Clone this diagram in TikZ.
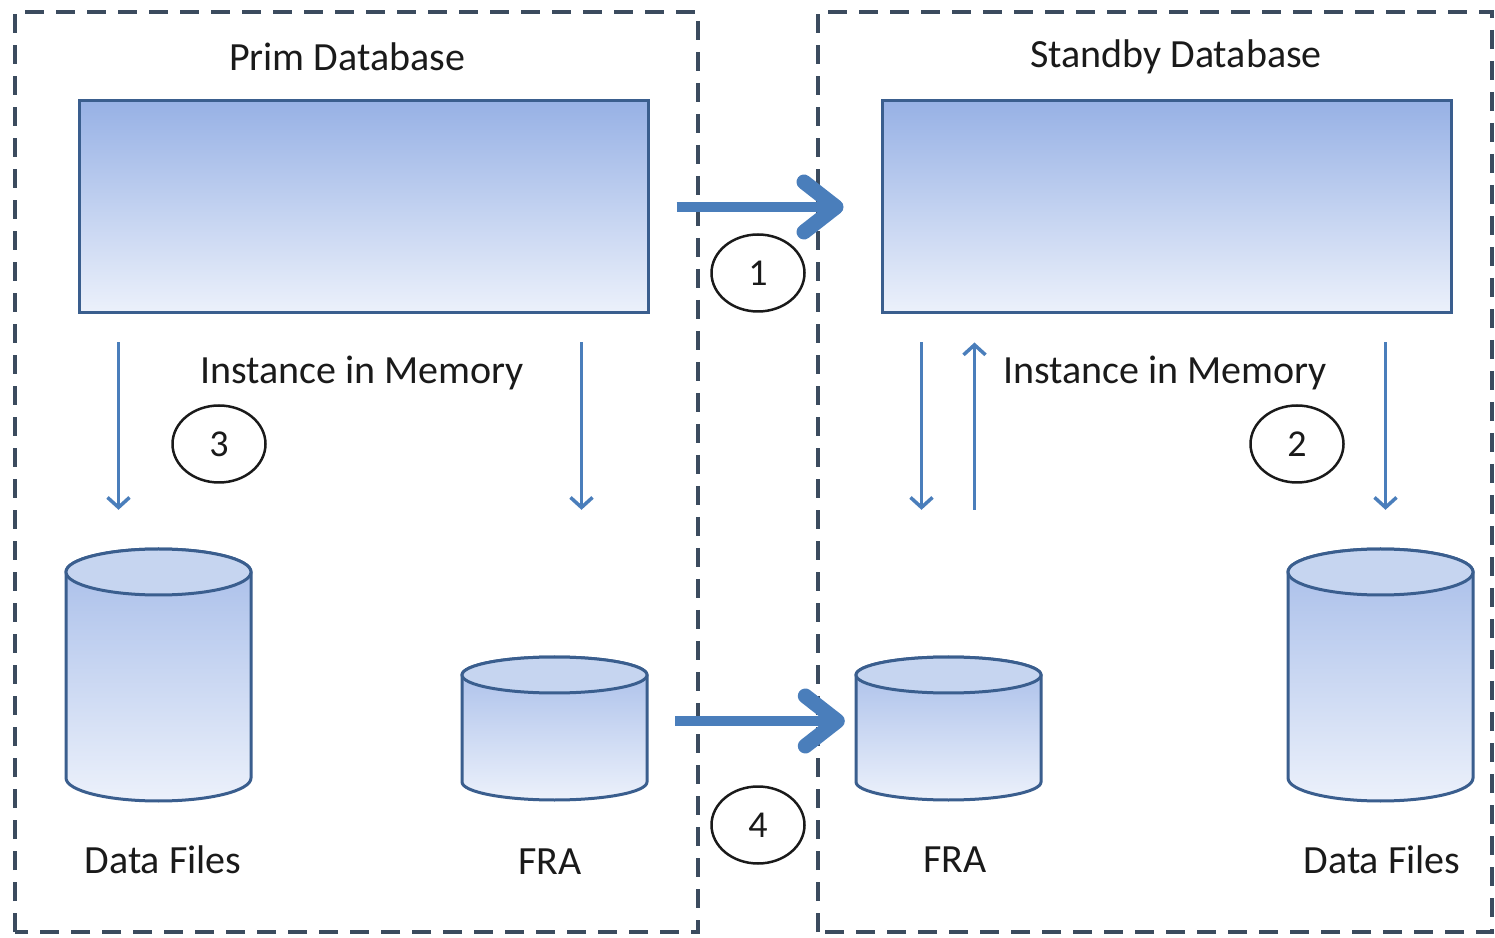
\documentclass[tikz,border=0pt]{standalone}
\usepackage{fontspec}
\setmainfont{Carlito}
\usetikzlibrary{arrows.meta,shapes.geometric}

\definecolor{frameline}{HTML}{3B4B5E}
\definecolor{boxline}{HTML}{3A5E8E}
\definecolor{flowblue}{HTML}{4A7EBB}
\definecolor{shadetop}{HTML}{97B1E5}
\definecolor{shadebot}{HTML}{ECF1FB}
\definecolor{captop}{HTML}{C6D5F0}
\definecolor{labeltext}{HTML}{1A1A1A}

\tikzset{
  framebox/.style={draw=frameline, line width=3.2pt, dash pattern=on 19pt off 12pt},
  instbox/.style={draw=boxline, line width=3pt, top color=shadetop, bottom color=shadebot,
    rectangle, minimum width=569pt, minimum height=212pt, inner sep=0pt},
  caption/.style={font=\fontsize{40}{44}\selectfont, text=labeltext, inner sep=0pt},
  stepmark/.style={draw=labeltext, line width=2.5pt, ellipse, minimum width=93pt,
    minimum height=77pt, inner sep=0pt, font=\fontsize{38}{42}\selectfont, text=labeltext},
  bigflow/.style={draw=flowblue, line width=10pt,
    -{Straight Barb[length=32pt,width=50pt,line width=15pt,round]}},
  smallflow/.style={draw=flowblue, line width=3pt,
    -{Straight Barb[length=10pt,width=22pt,line width=3.5pt]}},
  cylbody/.style={draw=boxline, line width=3pt, top color=shadetop!85!white, bottom color=shadebot},
  cyltop/.style={draw=boxline, line width=3pt, fill=captop},
}

% \dbdisk{name}{centre x}{top y}{bottom y}{half width}{ellipse half height}
\newcommand{\dbdisk}[6]{%
  \path[cylbody] (#2-#5,#3) -- (#2-#5,#4)
     arc[start angle=180, end angle=360, x radius=#5, y radius=#6]
     -- (#2+#5,#3)
     arc[start angle=0, end angle=180, x radius=#5, y radius=#6] -- cycle;
  \draw[cyltop] (#2,#3) ellipse [x radius=#5, y radius=#6];
  \node[rectangle, inner sep=0pt, minimum width=2*#5 pt, minimum height=#3-#4+2*#6 pt]
     (#1) at (#2,{(#3+#4)/2}) {};
}

\begin{document}
\begin{tikzpicture}[x=1pt,y=1pt]
  \useasboundingbox (0,0) rectangle (1495,937);

  % site frames
  \draw[framebox] (15,5) rectangle (698,925);
  \draw[framebox] (818,5) rectangle (1492,925);

  \node[caption] (primtitle) at (347,880) {Prim Database};
  \node[caption] (stbytitle) at (1176,880) {Standby Database};

  % instances
  \node[instbox] (primrect) at (363.5,730) {};
  \node[instbox] (stbyrect) at (1166.5,730) {};

  \node[caption] (priminst) at (362,564) {Instance in Memory};
  \node[caption] (stbyinst) at (1165,564) {Instance in Memory};

  % storage
  \dbdisk{pdata}{158.5}{365}{159}{92.5}{23}
  \dbdisk{pfra}{554.5}{262}{155}{92.5}{18}
  \dbdisk{sfra}{948.5}{262}{155}{92.5}{18}
  \dbdisk{sdata}{1380.5}{365}{159}{92.5}{23}

  \node[caption] (pdatalbl) at (163,77) {Data Files};
  \node[caption] (pfralbl) at (550,75) {FRA};
  \node[caption] (sfralbl) at (955,77) {FRA};
  \node[caption] (sdatalbl) at (1382,77) {Data Files};

  % redo shipping between sites
  \draw[bigflow, shorten <=27pt, shorten >=37pt] (primrect.east) -- (stbyrect.west);
  \draw[bigflow, shorten <=28pt, shorten >=11pt]
     ([yshift=7.5pt]pfra.east) -- ([yshift=7.5pt]sfra.west);

  % local writes
  \draw[smallflow, shorten <=28pt, shorten >=39pt]
     ([xshift=41pt]primrect.south west) -- ([xshift=41pt]primrect.south west |- pdata.north);
  \draw[smallflow, shorten <=28pt, shorten >=39pt]
     ([xshift=-68pt]primrect.south east) -- ([xshift=-68pt]primrect.south east |- pdata.north);
  \draw[smallflow, shorten <=28pt, shorten >=39pt]
     ([xshift=41pt]stbyrect.south west) -- ([xshift=41pt]stbyrect.south west |- sdata.north);
  \draw[smallflow, shorten >=28pt, shorten <=39pt]
     ([xshift=94pt]stbyrect.south west |- sdata.north) -- ([xshift=94pt]stbyrect.south west);
  \draw[smallflow, shorten <=28pt, shorten >=39pt]
     ([xshift=-67pt]stbyrect.south east) -- ([xshift=-67pt]stbyrect.south east |- sdata.north);

  % step markers
  \node[stepmark] (m1) at (758,664) {1};
  \node[stepmark] (m2) at (1297,493) {2};
  \node[stepmark] (m3) at (219,493) {3};
  \node[stepmark] (m4) at (758,112) {4};
\end{tikzpicture}
\end{document}
